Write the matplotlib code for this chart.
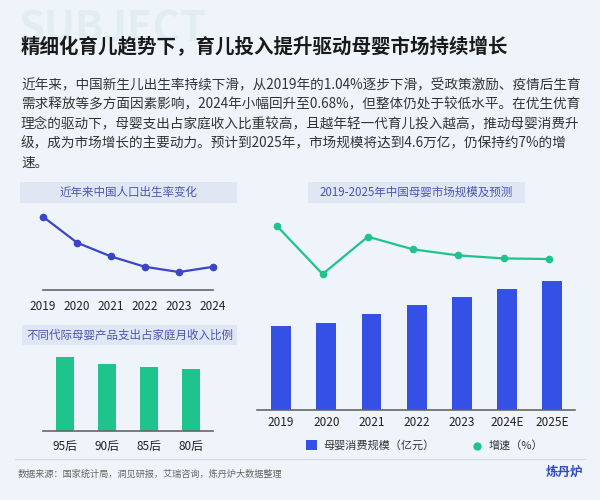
import numpy as np
import matplotlib
matplotlib.use("Agg")
import matplotlib.pyplot as plt
from matplotlib.patches import FancyBboxPatch, Rectangle
from matplotlib.lines import Line2D

plt.rcParams['font.family'] = ['Noto Sans CJK SC', 'DejaVu Sans']

# data
birth_years = ['2019', '2020', '2021', '2022', '2023', '2024']
birth_rate = [1.04, 0.852, 0.752, 0.677, 0.639, 0.677]   # %

gens = ['95后', '90后', '85后', '80后']
gen_share = [26.5, 23.9, 22.9, 22.2]   # % of monthly income (estimated)

mkt_years = ['2019', '2020', '2021', '2022', '2023', '2024E', '2025E']
mkt_size = [30000, 31000, 34200, 37400, 40200, 43000, 46000]   # 亿元
mkt_growth = [12.4, 4.5, 10.7, 8.6, 7.6, 7.1, 7.0]             # %

title = '精细化育儿趋势下，育儿投入提升驱动母婴市场持续增长'
para = ['近年来，中国新生儿出生率持续下滑，从2019年的1.04%逐步下滑，受政策激励、疫情后生育',
        '需求释放等多方面因素影响，2024年小幅回升至0.68%，但整体仍处于较低水平。在优生优育',
        '理念的驱动下，母婴支出占家庭收入比重较高，且越年轻一代育儿投入越高，推动母婴消费升',
        '级，成为市场增长的主要动力。预计到2025年，市场规模将达到4.6万亿，仍保持约7%的增',
        '速。']
source = '数据来源：国家统计局，洞见研报，艾瑞咨询，炼丹炉大数据整理'

W, H = 600, 500
BLUE = '#3550e4'
LINE_BLUE = '#3b45c6'
GREEN = '#1ec48b'
BOX = '#dfe6f4'
BOX_TXT = '#4b55ad'

fig = plt.figure(figsize=(6, 5), dpi=100)
fig.patch.set_facecolor('#eef4f9')


def fx(px):
    return px / W


def fy(py):
    return 1 - py / H


def panel_axes(x0, x1, y_top, y_bot):
    return fig.add_axes([fx(x0), fy(y_bot), (x1 - x0) / W, (y_bot - y_top) / H])


def style(ax):
    for s in ['top', 'right', 'left']:
        ax.spines[s].set_visible(False)
    ax.spines['bottom'].set_color('#666666')
    ax.spines['bottom'].set_linewidth(1.2)
    ax.set_yticks([])
    ax.tick_params(axis='x', length=0, labelsize=8.5, colors='#222222')
    ax.patch.set_alpha(0)


def title_box(x0, x1, y0, y1, text):
    fig.patches.append(FancyBboxPatch((fx(x0), fy(y1)), (x1 - x0) / W, (y1 - y0) / H,
                                      boxstyle='square,pad=0', transform=fig.transFigure,
                                      facecolor=BOX, edgecolor='none', alpha=0.9))
    fig.text(fx((x0 + x1) / 2), fy((y0 + y1) / 2), text, ha='center', va='center',
             fontsize=8.3, color=BOX_TXT)


# faint background word
fig.text(fx(18), fy(30), 'SUBJECT', fontsize=30, fontweight='bold', color='#c4e0e8',
         alpha=0.3, va='center', ha='left', zorder=0)

fig.text(fx(21), fy(47), title, fontsize=14, fontweight='bold', color='#1a1a1a',
         va='center', ha='left')

for i, line in enumerate(para):
    fig.text(fx(21), fy(85 + i * 19.5), line, fontsize=9.8, color='#333333',
             va='center', ha='left')

# top-left: birth rate
title_box(20, 237, 182, 203, '近年来中国人口出生率变化')
ax1 = panel_axes(43, 213, 208, 290)
x1 = np.arange(len(birth_years))
ax1.plot(x1, birth_rate, color=LINE_BLUE, lw=1.6, marker='o', ms=4.5, clip_on=False)
ax1.set_xlim(0, len(birth_years) - 1)
ax1.set_ylim(0.509, 1.103)
ax1.set_xticks(x1)
ax1.set_xticklabels(birth_years)
style(ax1)
ax1.tick_params(axis='x', pad=7)

# bottom-left: generation share
title_box(22, 237, 325, 345, '不同代际母婴产品支出占家庭月收入比例')
ax2 = panel_axes(43, 213, 350, 430.7)
x2 = np.arange(len(gens))
ax2.bar(x2, gen_share, width=0.45, color=GREEN)
ax2.set_xlim(-0.524, 3.524)
ax2.set_ylim(0, 28.9)
ax2.set_xticks(x2)
ax2.set_xticklabels(gens)
style(ax2)
ax2.tick_params(axis='x', pad=7)

# right: market size + growth
title_box(308, 525, 182, 203, '2019-2025年中国母婴市场规模及预测')
ax3 = panel_axes(257, 575, 210, 410)
x3 = np.arange(len(mkt_years))
ax3.bar(x3, mkt_size, width=0.44, color=BLUE)
ax3.set_xlim(-0.531, 6.5)
ax3.set_ylim(0, 71320)
ax3.set_xticks(x3)
ax3.set_xticklabels(mkt_years)
style(ax3)
ax3.tick_params(axis='x', pad=4)

ax4 = ax3.twinx()
ax4.plot(x3 - 0.08, mkt_growth, color=GREEN, lw=1.6, marker='o', ms=4.5, clip_on=False)
ax4.set_ylim(-18.04, 15.13)
ax4.set_yticks([])
for s in ax4.spines.values():
    s.set_visible(False)

# legend
fig.patches.append(Rectangle((fx(306), fy(450)), 11 / W, 10 / H, transform=fig.transFigure,
                             facecolor=BLUE, edgecolor='none'))
fig.text(fx(323), fy(445), '母婴消费规模（亿元）', fontsize=8, color='#333333',
         va='center', ha='left')
fig.lines.append(Line2D([fx(477)], [fy(446)], transform=fig.transFigure, marker='o',
                        ms=5, color=GREEN, lw=0))
fig.text(fx(489), fy(445), '增速（%）', fontsize=8, color='#333333', va='center', ha='left')

# footer
fig.lines.append(Line2D([fx(15), fx(585)], [fy(459), fy(459)], transform=fig.transFigure,
                        color='#d5dbe2', lw=0.8))
fig.text(fx(18), fy(474), source, fontsize=6.6, color='#666666', va='center', ha='left')
fig.text(fx(583), fy(472), '炼丹炉', fontsize=9, fontweight='bold', color='#2f49c9',
         va='center', ha='right')

fig.savefig('out.png', dpi=100, facecolor=fig.get_facecolor())
